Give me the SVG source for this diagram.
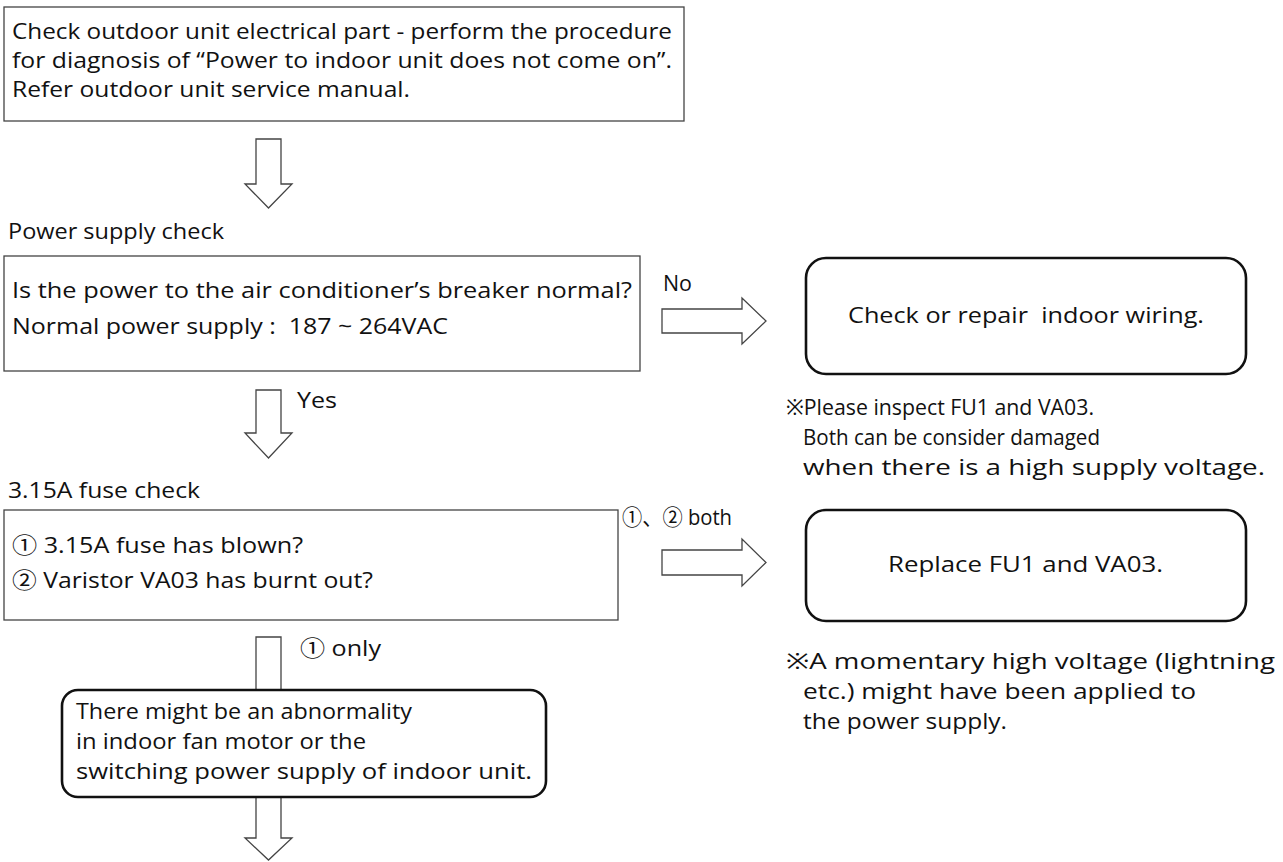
<svg xmlns="http://www.w3.org/2000/svg" width="1283" height="862" viewBox="0 0 1283 862">
<style>
text{font-family:"Open Sans","Noto Sans","Noto Sans CJK JP",sans-serif;font-size:22px;fill:#111;white-space:pre}
.box{fill:#fff;stroke:#444;stroke-width:1.3}
.rbox{fill:#fff;stroke:#111;stroke-width:2.6}
.arr{fill:#fff;stroke:#444;stroke-width:1.3;stroke-linejoin:miter}
</style>
<rect width="1283" height="862" fill="#fff"/>
<g id="connectors">
<polygon class="arr" points="256,139 281,139 281,184 292,184 268.5,208 245,184 256,184"/>
<polygon class="arr" points="256,390 281,390 281,433 292,433 268.5,458 245,433 256,433"/>
<polygon class="arr" points="662,309 742,309 742,298 766,321 742,344 742,333 662,333"/>
<polygon class="arr" points="662,550 742,550 742,539 766,562.5 742,586 742,575 662,575"/>
<path class="arr" d="M256,692 V637 H281 V692"/>
<path class="arr" d="M256,797 V838 H245 L268.5,860 L292,838 H281 V797"/>
<text x="663" y="291" textLength="29" lengthAdjust="spacingAndGlyphs">No</text>
<text x="297" y="408" textLength="40" lengthAdjust="spacingAndGlyphs">Yes</text>
<text x="622" y="525" textLength="110" lengthAdjust="spacingAndGlyphs">①、② both</text>
<text x="300" y="656" textLength="81" lengthAdjust="spacingAndGlyphs">① only</text>
</g>
<g id="start">
<rect class="box" x="4" y="7" width="680" height="114"/>
<text x="12" y="39" textLength="660" lengthAdjust="spacingAndGlyphs">Check outdoor unit electrical part - perform the procedure</text>
<text x="12" y="68" textLength="660" lengthAdjust="spacingAndGlyphs">for diagnosis of “Power to indoor unit does not come on”.</text>
<text x="12" y="97" textLength="398" lengthAdjust="spacingAndGlyphs">Refer outdoor unit service manual.</text>
</g>
<g id="power-check">
<text x="8" y="239" textLength="216" lengthAdjust="spacingAndGlyphs">Power supply check</text>
<rect class="box" x="4" y="256" width="636" height="115"/>
<text x="12" y="298" textLength="620" lengthAdjust="spacingAndGlyphs">Is the power to the air conditioner’s breaker normal?</text>
<text x="12" y="334" textLength="436" lengthAdjust="spacingAndGlyphs">Normal power supply :  187 ~ 264VAC</text>
</g>
<g id="repair-wiring">
<rect class="rbox" x="806" y="258" width="440" height="116" rx="20" ry="20"/>
<text x="848" y="323" textLength="356" lengthAdjust="spacingAndGlyphs">Check or repair  indoor wiring.</text>
<text x="786" y="415" textLength="308" lengthAdjust="spacingAndGlyphs">※Please inspect FU1 and VA03.</text>
<text x="803" y="445" textLength="297" lengthAdjust="spacingAndGlyphs">Both can be consider damaged</text>
<text x="803" y="475" textLength="462" lengthAdjust="spacingAndGlyphs">when there is a high supply voltage.</text>
</g>
<g id="fuse-check">
<text x="8" y="498" textLength="192" lengthAdjust="spacingAndGlyphs">3.15A fuse check</text>
<rect class="box" x="4" y="510" width="614" height="110"/>
<text x="12" y="553" textLength="291" lengthAdjust="spacingAndGlyphs">① 3.15A fuse has blown?</text>
<text x="12" y="588" textLength="361" lengthAdjust="spacingAndGlyphs">② Varistor VA03 has burnt out?</text>
</g>
<g id="replace">
<rect class="rbox" x="806" y="510" width="440" height="111" rx="20" ry="20"/>
<text x="888" y="572" textLength="275" lengthAdjust="spacingAndGlyphs">Replace FU1 and VA03.</text>
<text x="786" y="669" textLength="489" lengthAdjust="spacingAndGlyphs">※A momentary high voltage (lightning</text>
<text x="803" y="699" textLength="393" lengthAdjust="spacingAndGlyphs">etc.) might have been applied to</text>
<text x="803" y="729" textLength="204" lengthAdjust="spacingAndGlyphs">the power supply.</text>
</g>
<g id="abnormality">
<rect class="rbox" x="62" y="690" width="484" height="107" rx="16" ry="16"/>
<text x="76" y="719" textLength="336" lengthAdjust="spacingAndGlyphs">There might be an abnormality</text>
<text x="76" y="749" textLength="290" lengthAdjust="spacingAndGlyphs">in indoor fan motor or the</text>
<text x="76" y="779" textLength="456" lengthAdjust="spacingAndGlyphs">switching power supply of indoor unit.</text>
</g>
</svg>
